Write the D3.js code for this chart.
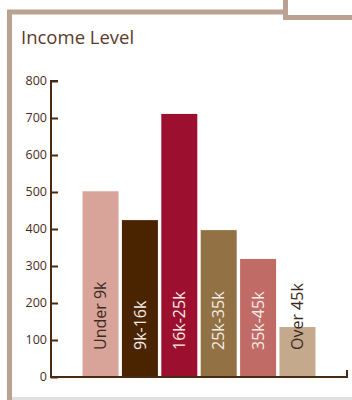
<!DOCTYPE html>
<html>
<head>
<meta charset="utf-8">
<script src="https://cdn.jsdelivr.net/npm/d3@7"></script>
<style>
  body { margin: 0; background: #fff; }
  svg { display: block; font-family: "Open Sans", "Noto Sans", sans-serif; }
</style>
</head>
<body>
<div id="chart"></div>
<script>
// données
const categories = ["Under 9k", "9k-16k", "16k-25k", "25k-35k", "35k-45k", "Over 45k"];
const values = [502, 424, 711, 397, 319, 135];
const colors = ["#d8a49a", "#4a2300", "#9c0f2e", "#927145", "#c06b66", "#c4a98c"];
const labelColors = ["#3a2a22", "#f4ece6", "#f4ece6", "#f4ece6", "#f4ece6", "#3a2a22"];
const yTicks = [0, 100, 200, 300, 400, 500, 600, 700, 800];

const width = 352;
const height = 400;
const axisColor = "#4a2a10";

const svg = d3.select("#chart")
    .append("svg")
    .attr("width", width)
    .attr("height", height);

// cadre
svg.append("line")
    .attr("x1", 12).attr("x2", width)
    .attr("y1", 398.5).attr("y2", 398.5)
    .attr("stroke", "#e2e0de").attr("stroke-width", 3);
svg.append("path")
    .attr("d", "M9.5,400 V12 H285.5")
    .attr("fill", "none").attr("stroke", "#b9a292").attr("stroke-width", 5);
svg.append("path")
    .attr("d", "M285.5,0 V17.5 H352")
    .attr("fill", "none").attr("stroke", "#b9a292").attr("stroke-width", 5);

// titre
svg.append("text")
    .attr("x", 21).attr("y", 44)
    .attr("fill", "#5a3a2c")
    .attr("font-size", 18.5)
    .text("Income Level");

// échelles
const x = d3.scaleBand()
    .domain(categories)
    .range([51, 347])
    .paddingInner(0.086)
    .paddingOuter(0.8);

const y = d3.scaleLinear()
    .domain([0, 800])
    .range([377, 81]);

const data = categories.map((c, i) => ({ key: c, value: values[i], color: colors[i], label: labelColors[i] }));

// barres
svg.selectAll(".bar")
    .data(data)
    .join("rect")
    .attr("class", "bar")
    .attr("x", d => x(d.key))
    .attr("width", x.bandwidth())
    .attr("y", d => y(d.value))
    .attr("height", d => y(0) - y(d.value))
    .attr("fill", d => d.color);

// étiquettes verticales
svg.selectAll(".label")
    .data(data)
    .join("text")
    .attr("class", "label")
    .attr("transform", d => `translate(${x(d.key) + x.bandwidth() / 2},350) rotate(-90)`)
    .attr("dy", "0.36em")
    .attr("font-size", 16)
    .attr("fill", d => d.label)
    .text(d => d.key);

// axe y
const yAxis = svg.append("g")
    .attr("transform", "translate(51,0)")
    .call(d3.axisRight(y).tickValues(yTicks).tickSize(7).tickFormat(""));
yAxis.selectAll("path, line").attr("stroke", axisColor).attr("stroke-width", 2);
yAxis.select(".domain").attr("d", `M7,${y(800)}H0V${y(0)}`);

svg.selectAll(".ytick")
    .data(yTicks)
    .join("text")
    .attr("class", "ytick")
    .attr("x", 47)
    .attr("y", d => y(d))
    .attr("dy", "0.35em")
    .attr("text-anchor", "end")
    .attr("font-size", 12.5)
    .attr("fill", "#4a2c1c")
    .text(d => d);

// axe x
svg.append("path")
    .attr("d", `M50,${y(0)}H347V${y(0) - 7}`)
    .attr("fill", "none")
    .attr("stroke", axisColor)
    .attr("stroke-width", 2);
</script>
</body>
</html>
